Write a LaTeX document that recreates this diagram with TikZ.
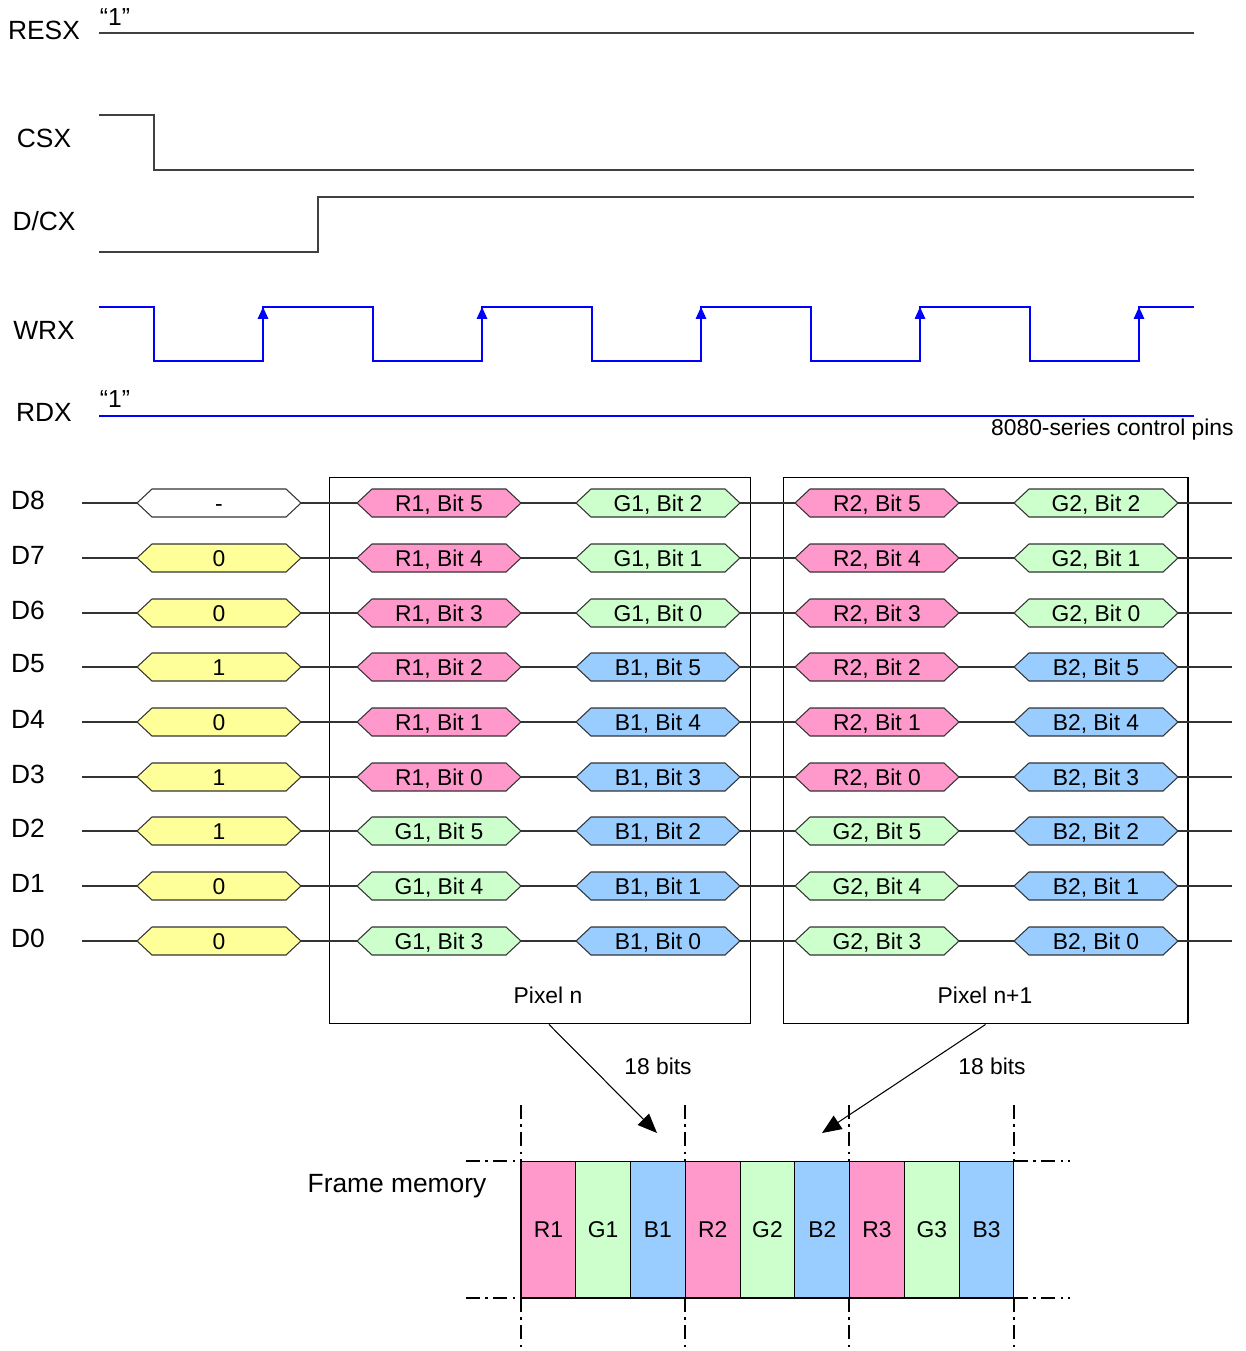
\documentclass[tikz,border=0pt]{standalone}
\usepackage{fontspec}
\setmainfont{Liberation Sans}
\usetikzlibrary{positioning,arrows.meta}
\definecolor{colR}{HTML}{FF99CC}
\definecolor{colG}{HTML}{CCFFCC}
\definecolor{colB}{HTML}{99CCFF}
\definecolor{colY}{HTML}{FFFF99}
\definecolor{colW}{HTML}{FFFFFF}
\newcommand{\sigfont}{\fontsize{15}{18}\selectfont}
\newcommand{\busfont}{\fontsize{13}{15}\selectfont}
% bus value: name, left x, y, colour, text
\newcommand{\busval}[5]{%
  \draw[busline, fill=#4] (#2,#3) -- ++(15,-14) -- ++(134,0) -- ++(15,14) -- ++(-15,14) -- ++(-134,0) -- cycle;
  \node[bustext, text height=9.3pt, text depth=0pt] (#1) at ({#2+82},#3) {#5};}
\begin{document}
\begin{tikzpicture}[x=0.02cm, y=-0.02cm,
  sigline/.style={line width=0.8pt, black!75},
  wrline/.style={line width=0.8pt, blue},
  busline/.style={line width=0.6pt, black!80},
  siglabel/.style={font=\sigfont, inner sep=0pt},
  bustext/.style={font=\busfont, inner sep=0pt},
  quote/.style={font=\fontsize{14}{16}\selectfont, inner sep=0pt},
  cell/.style={draw, line width=0.6pt, minimum width=1.0956cm, minimum height=2.74cm, inner sep=0pt, outer sep=0pt, font=\busfont},
  pixbox/.style={draw, line width=0.6pt, minimum width=8.44cm, minimum height=10.94cm, inner sep=0pt},
  dashdot/.style={line width=0.6pt, dash pattern=on 8pt off 3pt on 1.5pt off 3pt},
  edgetip/.style={wrline, -{Triangle[length=6.8pt,width=6pt]}},
  feed/.style={line width=0.6pt, -{Triangle[length=11pt,width=9pt]}}]
\useasboundingbox (0,0) rectangle (1245,1351);

% control pins
\node[siglabel] (resx) at (44,30) {RESX};
\node[quote] (resxval) at (115,17) {“1”};
\draw[sigline] (99,33) -- (1194,33);
\node[siglabel] (csx) at (44,138) {CSX};
\draw[sigline] (99,115) -- (154,115) -- (154,170) -- (1194,170);
\node[siglabel] (dcx) at (44,221) {D/CX};
\draw[sigline] (99,252) -- (318,252) -- (318,197) -- (1194,197);
\node[siglabel] (wrx) at (44,330) {WRX};
\draw[wrline] (99,307) -- (154,307) -- (154,361) -- (263,361) -- (263,307) -- (373,307) -- (373,361) -- (482,361) -- (482,307) -- (592,307) -- (592,361) -- (701,361) -- (701,307) -- (811,307) -- (811,361) -- (920,361) -- (920,307) -- (1030,307) -- (1030,361) -- (1139,361) -- (1139,307) -- (1194,307);
\foreach \x in {263,482,701,920,1139}
  \draw[edgetip] (\x,340) -- (\x,307);
\node[siglabel] (rdx) at (44,412) {RDX};
\node[quote] (rdxval) at (115,399) {“1”};
\draw[wrline] (99,416) -- (1194,416);
\node[bustext, anchor=east] (pins) at (1234,430) {8080-series control pins};

% pixel boxes
\node[pixbox] (pixn) at (540,750.5) {};
\node[pixbox, minimum width=8.1cm] (pixnn) at (985.5,750.5) {};
\node[bustext] (lpixn) at (548,995) {Pixel n};
\node[bustext] (lpixnn) at (985,995) {Pixel n+1};

% data bus
\foreach \d/\yy/\v/\vc/\la/\ba/\lb/\bb in {
  8/503/-/colW/R/5/G/2,
  7/558/0/colY/R/4/G/1,
  6/613/0/colY/R/3/G/0,
  5/667/1/colY/R/2/B/5,
  4/722/0/colY/R/1/B/4,
  3/777/1/colY/R/0/B/3,
  2/831/1/colY/G/5/B/2,
  1/886/0/colY/G/4/B/1,
  0/941/0/colY/G/3/B/0}
{
  \node[siglabel] (d\d) at (28,\yy-3) {D\d};
  \coordinate (bl\d) at (82,\yy);
  \coordinate (br\d) at (1232,\yy);
  \draw[busline] (bl\d) -- (br\d);
  \busval{cmd\d}{137}{\yy}{\vc}{\v}
  \busval{pna\d}{357}{\yy}{col\la}{\la1, Bit \ba}
  \busval{pnb\d}{576}{\yy}{col\lb}{\lb1, Bit \bb}
  \busval{pma\d}{795}{\yy}{col\la}{\la2, Bit \ba}
  \busval{pmb\d}{1014}{\yy}{col\lb}{\lb2, Bit \bb}
}

% to frame memory
\coordinate (tipn) at (657,1133);
\coordinate (tipnn) at (822,1133);
\draw[feed] ([xshift=0.18cm]pixn.south) -- (tipn);
\draw[feed] (pixnn.south) -- (tipnn);
\node[bustext] (bitsn) at (658,1066) {18 bits};
\node[bustext] (bitsnn) at (992,1066) {18 bits};

\node[siglabel] (fmem) at (397,1186) {Frame memory};
\foreach \x in {521,685,849,1014} {
  \draw[dashdot] (\x,1105) -- (\x,1161);
  \draw[dashdot] (\x,1298) -- (\x,1351);
}
\draw[dashdot] (466,1161) -- (521,1161);
\draw[dashdot] (466,1298) -- (521,1298);
\draw[dashdot] (1014,1161) -- (1070,1161);
\draw[dashdot] (1014,1298) -- (1070,1298);
\node[cell, fill=colR, anchor=west] (mr1) at (521,1229.5) {R1};
\node[cell, fill=colG, right=0pt of mr1] (mg1) {G1};
\node[cell, fill=colB, right=0pt of mg1] (mb1) {B1};
\node[cell, fill=colR, right=0pt of mb1] (mr2) {R2};
\node[cell, fill=colG, right=0pt of mr2] (mg2) {G2};
\node[cell, fill=colB, right=0pt of mg2] (mb2) {B2};
\node[cell, fill=colR, right=0pt of mb2] (mr3) {R3};
\node[cell, fill=colG, right=0pt of mr3] (mg3) {G3};
\node[cell, fill=colB, right=0pt of mg3] (mb3) {B3};
\end{tikzpicture}
\end{document}
